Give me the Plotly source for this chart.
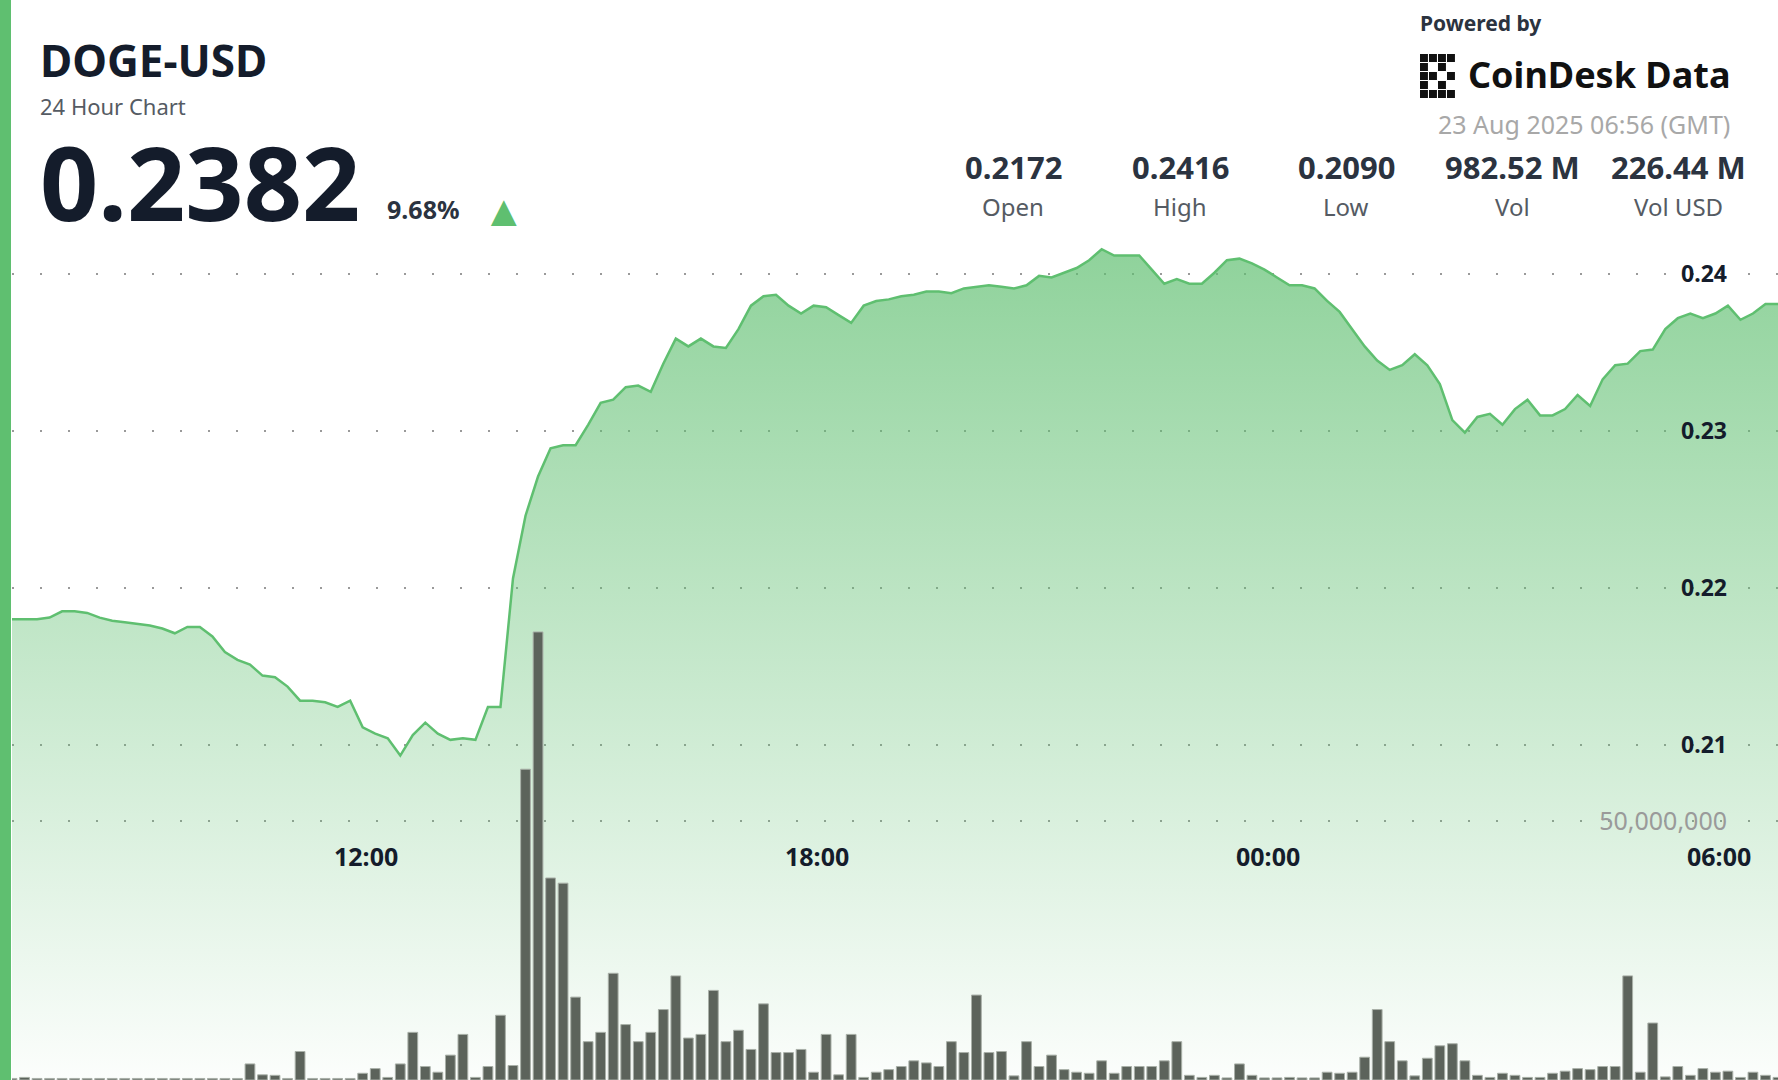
import pandas as pd
import plotly.graph_objects as go

# 10-minute samples, DOGE-USD, 22 Aug 07:17 -> 23 Aug 06:47 (GMT)
prices = [
    0.2180, 0.2180, 0.2180, 0.2181, 0.2185, 0.2185, 0.2184, 0.2181, 0.2179, 0.2178,
    0.2177, 0.2176, 0.2174, 0.2171, 0.2175, 0.2175, 0.2169, 0.2159, 0.2154, 0.2151,
    0.2144, 0.2143, 0.2137, 0.2128, 0.2128, 0.2127, 0.2124, 0.2128, 0.2111, 0.2107,
    0.2104, 0.2093, 0.2106, 0.2114, 0.2107, 0.2103, 0.2104, 0.2103, 0.2124, 0.2124,
    0.2206, 0.2246, 0.2271, 0.2289, 0.2291, 0.2291, 0.2304, 0.2318, 0.2320, 0.2328,
    0.2329, 0.2325, 0.2343, 0.2359, 0.2354, 0.2359, 0.2354, 0.2353, 0.2365, 0.2380,
    0.2386, 0.2387, 0.2380, 0.2375, 0.2380, 0.2379, 0.2374, 0.2369, 0.2380, 0.2383,
    0.2384, 0.2386, 0.2387, 0.2389, 0.2389, 0.2388, 0.2391, 0.2392, 0.2393, 0.2392,
    0.2391, 0.2393, 0.2399, 0.2398, 0.2401, 0.2404, 0.2409, 0.2416, 0.2412, 0.2412,
    0.2412, 0.2403, 0.2394, 0.2397, 0.2394, 0.2394, 0.2401, 0.2409, 0.2410, 0.2407,
    0.2403, 0.2398, 0.2393, 0.2393, 0.2391, 0.2383, 0.2376, 0.2365, 0.2354, 0.2345,
    0.2339, 0.2342, 0.2349, 0.2342, 0.2330, 0.2307, 0.2299, 0.2309, 0.2311, 0.2304,
    0.2314, 0.2320, 0.2310, 0.2310, 0.2314, 0.2323, 0.2316, 0.2333, 0.2342, 0.2343,
    0.2351, 0.2352, 0.2365, 0.2372, 0.2375, 0.2372, 0.2375, 0.2380, 0.2371, 0.2375,
    0.2381, 0.2381,
]

# volume per 10-minute bar, millions of DOGE
volumes_m = [
    0.3, 0.5, 0.3, 0.3, 0.3, 0.3, 0.3, 0.3, 0.3, 0.3,
    0.3, 0.3, 0.3, 0.3, 0.3, 0.3, 0.3, 0.3, 0.3, 3.1,
    1.0, 0.9, 0.3, 5.5, 0.3, 0.3, 0.3, 0.3, 1.3, 2.2,
    0.5, 3.1, 9.2, 2.6, 1.5, 4.8, 8.8, 0.5, 2.6, 12.5,
    2.8, 60.0, 86.5, 39.0, 38.0, 16.0, 7.4, 9.2, 20.6, 10.7,
    7.4, 9.2, 13.6, 20.1, 8.1, 8.8, 17.3, 7.4, 9.6, 5.9,
    14.7, 5.3, 5.3, 5.9, 1.5, 8.8, 1.0, 8.8, 0.5, 1.5,
    2.0, 2.6, 3.7, 3.3, 2.6, 7.4, 5.3, 16.4, 5.3, 5.5,
    0.8, 7.4, 2.6, 4.8, 2.0, 1.5, 1.3, 3.7, 1.3, 2.6,
    2.6, 2.6, 3.7, 7.4, 0.9, 0.5, 0.9, 0.4, 3.1, 0.9,
    0.4, 0.4, 0.5, 0.4, 0.4, 1.5, 1.3, 1.5, 4.4, 13.6,
    7.4, 3.7, 0.8, 4.2, 6.6, 7.0, 3.7, 0.9, 0.5, 1.3,
    0.9, 0.5, 0.5, 1.3, 1.7, 2.2, 2.0, 2.6, 2.6, 20.1,
    1.5, 11.0, 0.6, 2.6, 0.9, 2.2, 1.5, 1.7, 0.5, 1.5,
    0.9, 0.5,
]

stat_values = ["0.2172", "0.2416", "0.2090", "982.52 M", "226.44 M"]
stat_labels = ["Open", "High", "Low", "Vol", "Vol USD"]
stat_x = [1013, 1180, 1346, 1512, 1678]

tick_times = ["2025-08-22 12:00", "2025-08-22 18:00", "2025-08-23 00:00", "2025-08-23 06:00"]
tick_text = ["12:00", "18:00", "00:00", "06:00"]

times = pd.date_range("2025-08-22 07:17", periods=len(prices), freq="10min")
volumes = [v * 1e6 for v in volumes_m]

W, H = 1778, 1080
GREEN = "#5fbf70"
DARK = "#141c2b"
FONT = "Noto Sans"
y_lo, y_hi = 0.1886, 0.2575
XLAB_Y = 0.225

fig = go.Figure()

# invisible floor so the gradient fill spans to the bottom of the plot
fig.add_trace(go.Scatter(x=times, y=[y_lo] * len(times), mode="lines",
                         line=dict(width=0), hoverinfo="skip", showlegend=False))
fig.add_trace(go.Scatter(
    x=times, y=prices, mode="lines", fill="tonexty",
    line=dict(color=GREEN, width=2.5),
    fillgradient=dict(type="vertical",
                      colorscale=[[0, "rgba(95,191,112,0.02)"],
                                  [1, "rgba(95,191,112,0.70)"]]),
    showlegend=False))
fig.add_trace(go.Bar(
    x=times, y=volumes, yaxis="y2",
    marker=dict(color="#5c635b", line=dict(color="#a9b0a8", width=1)),
    showlegend=False))

fig.update_layout(
    width=W, height=H,
    margin=dict(l=12, r=0, t=0, b=0),
    paper_bgcolor="white", plot_bgcolor="white",
    bargap=0.22,
    font=dict(family=FONT, color=DARK),
    xaxis=dict(range=[times[0], times[-1]], showgrid=False, zeroline=False,
               showticklabels=False, showline=False, ticks=""),
    yaxis=dict(range=[y_lo, y_hi], side="right", ticklabelposition="inside",
               ticklabelstandoff=48,
               tickvals=[0.21, 0.22, 0.23, 0.24],
               tickfont=dict(size=23, color=DARK, family=FONT, weight="bold"),
               showgrid=True, gridcolor="#9a9a9a", griddash="2px,26px", gridwidth=1.5,
               zeroline=False),
    yaxis2=dict(range=[0, 208.5e6], overlaying="y", side="right",
                ticklabelposition="inside", ticklabelstandoff=48,
                tickvals=[50e6], tickformat=",d",
                tickfont=dict(size=25, color="#9a9a9a", family=FONT),
                showgrid=True, gridcolor="#9a9a9a", griddash="2px,26px", gridwidth=1.5,
                zeroline=False),
)

# time labels sit mid-chart, placed on the x scale
for t, lab in zip(tick_times, tick_text):
    fig.add_annotation(x=pd.Timestamp(t), y=XLAB_Y, xref="x", yref="paper",
                       yanchor="top", showarrow=False, text=lab,
                       font=dict(size=25, color=DARK, family=FONT, weight="bold"))

# left accent stripe
fig.add_shape(type="rect", xref="paper", yref="paper", x0=-12 / 1766, x1=-1 / 1766,
              y0=0, y1=1, fillcolor=GREEN, line=dict(width=0), layer="above")


def px_text(x, y, text, size, color=DARK, bold=False, xanchor="left"):
    fig.add_annotation(x=x / W, y=1 - y / H, xref="paper", yref="paper",
                       xanchor=xanchor, yanchor="middle", showarrow=False, text=text,
                       font=dict(size=size, color=color, family=FONT,
                                 weight="bold" if bold else "normal"))


# paper coordinates here are relative to the plot area; shift by left margin
def hx(x):
    return (x - 12) * W / 1766


px_text(hx(38), 60, "DOGE-USD", 44, bold=True)
px_text(hx(38), 106, "24 Hour Chart", 22, color="#555b63")
px_text(hx(38), 181, "0.2382", 102, bold=True)
px_text(hx(385), 209, "9.68%", 25, color="#2b3340", bold=True)
px_text(hx(480), 209, "▲", 44, color=GREEN)

for v, lab, x in zip(stat_values, stat_labels, stat_x):
    px_text(hx(x), 167, v, 31, color="#2b3340", bold=True, xanchor="center")
    px_text(hx(x), 206, lab, 24, color="#555b63", xanchor="center")

px_text(hx(1418), 23, "Powered by", 21, color="#2b3340", bold=True)
px_text(hx(1466), 74, "CoinDesk Data", 36, color="#111111", bold=True)
px_text(hx(1732), 124, "23 Aug 2025 06:56 (GMT)", 25, color="#a8a8a8", xanchor="right")

# small pixel-style logo mark
for cx, cy in [(0, 0), (1, 0), (2, 0), (3, 0), (0, 1), (2, 1), (0, 2), (1, 2), (3, 2),
               (0, 3), (2, 3), (0, 4), (1, 4), (2, 4), (3, 4)]:
    x0 = hx(1420 + cx * 9) / W
    y0 = 1 - (54 + cy * 9) / H
    fig.add_shape(type="rect", xref="paper", yref="paper",
                  x0=x0, x1=x0 + 8 / W, y0=y0 - 8 / H, y1=y0,
                  fillcolor="#111111", line=dict(width=0))

# drop the browser's default page margin so the chart sits at the window corner
fig.write_html("out.html", config={"displayModeBar": False},
               post_script="document.body.style.margin='0';")
